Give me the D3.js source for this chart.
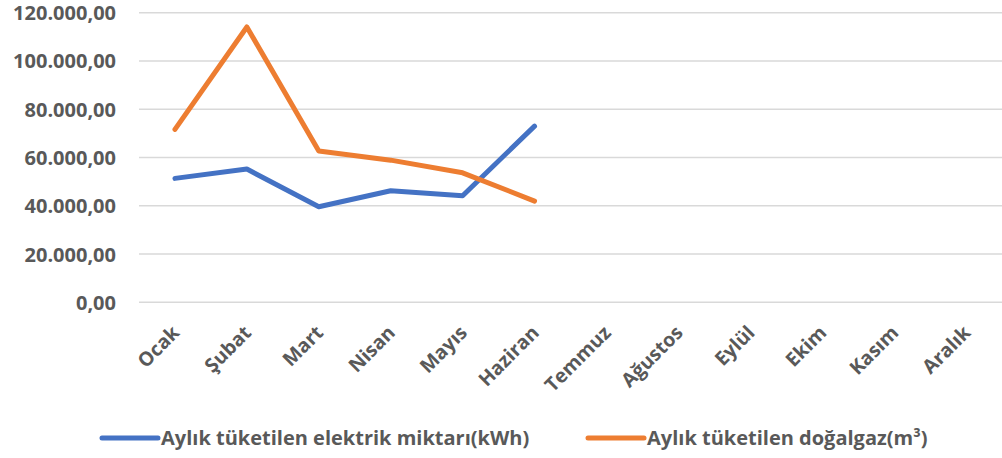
<!DOCTYPE html>
<html>
<head>
<meta charset="utf-8">
<script src="https://cdn.jsdelivr.net/npm/d3@7"></script>
<style>
  body { margin: 0; background: #fff; }
  text { font-family: "Open Sans", sans-serif; font-weight: 700; fill: #595959; }
</style>
</head>
<body>
<div class="chart"></div>
<script>
// Data

const months = ["Ocak", "Şubat", "Mart", "Nisan", "Mayıs", "Haziran",
  "Temmuz", "Ağustos", "Eylül", "Ekim", "Kasım", "Aralık"];
const electricity = [51350, 55200, 39600, 46200, 44150, 73000];
const naturalGas = [71650, 114100, 62650, 58900, 53650, 41950];
const yTicks = [0, 20000, 40000, 60000, 80000, 100000, 120000];
const seriesNames = ["Aylık tüketilen elektrik miktarı(kWh)", "Aylık tüketilen doğalgaz(m³)"];
const seriesColors = ["#4472C4", "#ED7D31"];

// Measurements

const width = 1002;
const height = 458;
const margin = { top: 12.7, right: 0, bottom: 155.7, left: 139 };
const w = width - margin.left - margin.right;
const h = height - margin.top - margin.bottom;

const svg = d3
  .select(".chart")
  .append("svg")
  .attr("width", width)
  .attr("height", height);

const g = svg
  .append("g")
  .attr("transform", `translate(${margin.left}, ${margin.top})`);

// Scales

const xScale = d3.scaleBand().domain(months).range([0, w]);
const yScale = d3.scaleLinear().domain([0, 120000]).range([h, 0]);
const fmt = (v) => d3.format(",.2f")(v).replace(/,/g, "#").replace(".", ",").replace(/#/g, ".");

// Gridlines

g.selectAll(".grid")
  .data(yTicks)
  .enter()
  .append("line")
  .attr("x1", 0)
  .attr("x2", w)
  .attr("y1", (d) => yScale(d))
  .attr("y2", (d) => yScale(d))
  .attr("stroke", "#d9d9d9")
  .attr("stroke-width", 1.5);

// Y axis

const yAxis = g
  .append("g")
  .call(d3.axisLeft(yScale).tickValues(yTicks).tickFormat(fmt).tickSize(0).tickPadding(23));
yAxis.select(".domain").remove();
yAxis.selectAll("text")
  .attr("font-size", 20)
  .style("font-family", "Open Sans")
  .attr("fill", "#595959")
  .attr("dy", "0.35em");

// X axis

const xAxis = g
  .append("g")
  .attr("transform", `translate(0, ${h})`)
  .call(d3.axisBottom(xScale).tickSize(0));
xAxis.select(".domain").remove();
xAxis.selectAll("text")
  .attr("font-size", 19.5)
  .style("font-family", "Open Sans")
  .attr("fill", "#595959")
  .attr("text-anchor", "end")
  .attr("transform", "translate(-4, 22) rotate(-45)")
  .attr("dy", "0.7em")
  .attr("y", 0);

// Lines

const line = d3
  .line()
  .x((d, i) => xScale(months[i]) + xScale.bandwidth() / 2)
  .y((d) => yScale(d));

[electricity, naturalGas].forEach((series, k) => {
  g.append("path")
    .datum(series)
    .attr("fill", "none")
    .attr("stroke", seriesColors[k])
    .attr("stroke-width", 5)
    .attr("stroke-linecap", "round")
    .attr("stroke-linejoin", "round")
    .attr("d", line);
});

// Legend

const legendX = [102, 588];
const legend = svg.append("g");
seriesNames.forEach((name, k) => {
  legend.append("line")
    .attr("x1", legendX[k])
    .attr("x2", legendX[k] + 56)
    .attr("y1", 438)
    .attr("y2", 438)
    .attr("stroke", seriesColors[k])
    .attr("stroke-width", 5)
    .attr("stroke-linecap", "round");
  legend.append("text")
    .attr("x", legendX[k] + 59)
    .attr("y", 438)
    .attr("dy", "0.35em")
    .attr("font-size", 20)
    .text(name);
});
</script>
</body>
</html>
